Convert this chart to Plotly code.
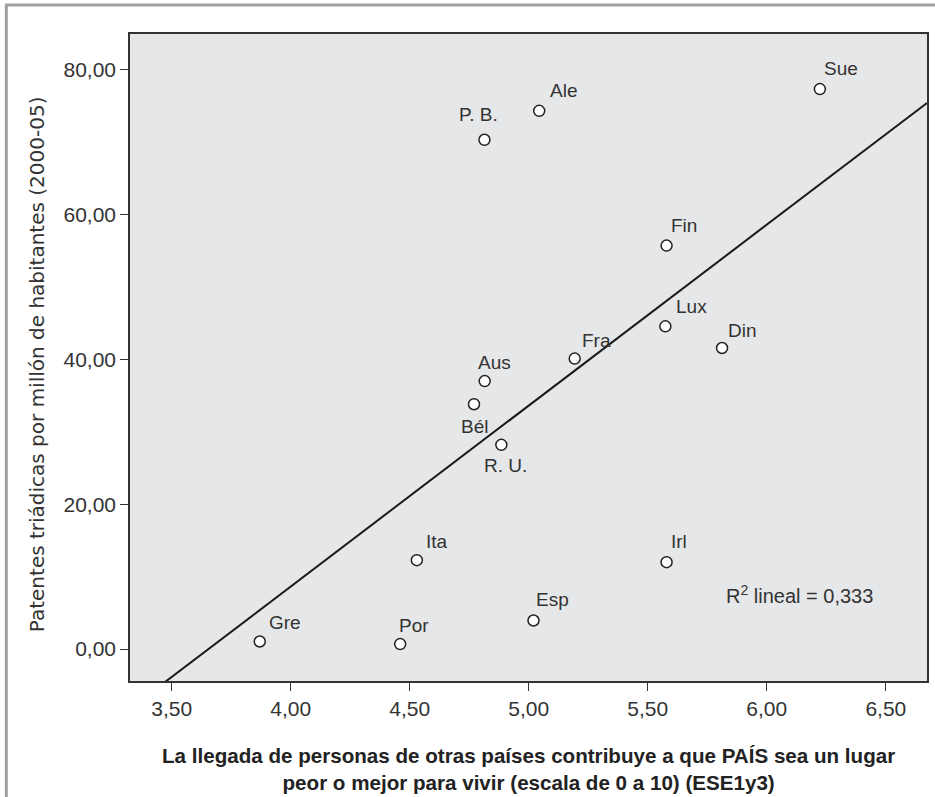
import plotly.graph_objects as go

countries = ["Gre", "Por", "Esp", "Ita", "Bél", "R. U.", "Aus", "Fra", "Fin", "Lux",
             "Din", "Irl", "P. B.", "Ale", "Sue"]
llegada = [3.87, 4.46, 5.02, 4.53, 4.77, 4.885, 4.815, 5.193, 5.579, 5.574,
           5.812, 5.579, 4.814, 5.044, 6.223]
patentes = [1.05, 0.69, 3.95, 12.28, 33.8, 28.2, 37.0, 40.1, 55.7, 44.55,
            41.56, 12.0, 70.3, 74.3, 77.3]
x_ticks = [3.5, 4.0, 4.5, 5.0, 5.5, 6.0, 6.5]
y_ticks = [0, 20, 40, 60, 80]

# linear fit line as drawn in the chart
fit_slope = 24.97
fit_intercept = -91.24
r2_text = "R<sup>2</sup> lineal = 0,333"

x_title = ("<b>La llegada de personas de otras países contribuye a que PAÍS sea un lugar"
           "<br>peor o mejor para vivir (escala de 0 a 10) (ESE1y3)</b>")
y_title = "Patentes triádicas por millón de habitantes (2000-05)"

# label offsets in pixels (dx, dy; screen-down positive) relative to each point
label_offsets = {
    "Gre": (25, -19), "Por": (14, -19), "Esp": (19, -21), "Ita": (20, -19),
    "Bél": (1, 22), "R. U.": (4, 21), "Aus": (10, -19), "Fra": (22, -18),
    "Fin": (17, -20), "Lux": (26, -20), "Din": (20, -18), "Irl": (12, -21),
    "P. B.": (-6, -25), "Ale": (24, -20), "Sue": (21, -21),
}

x_range = [3.325, 6.673]
y_range = [-4.4, 84.9]

line_x = list(x_range)
line_y = [fit_slope * v + fit_intercept for v in line_x]

sans = "Liberation Sans, Arial, Helvetica, sans-serif"
wide = "DejaVu Sans, Verdana, sans-serif"
txt = "#333333"

fig = go.Figure()
fig.add_trace(go.Scatter(
    x=line_x, y=line_y, mode="lines",
    line=dict(color="#1a1a1a", width=2), hoverinfo="skip", showlegend=False,
))
fig.add_trace(go.Scatter(
    x=llegada, y=patentes, mode="markers",
    marker=dict(size=11, color="white", line=dict(color="#222222", width=1.5)),
    showlegend=False, cliponaxis=False,
))

annotations = []
for c, xv, yv in zip(countries, llegada, patentes):
    dx, dy = label_offsets[c]
    annotations.append(dict(
        x=xv, y=yv, text=c, showarrow=False, xshift=dx, yshift=-dy,
        font=dict(size=19, color=txt, family=sans),
    ))
annotations.append(dict(
    x=6.139, y=7.6, text=r2_text, showarrow=False,
    font=dict(size=20, color=txt, family=sans),
))
annotations.append(dict(
    xref="paper", yref="paper", x=0.4994, y=-0.136, text=x_title,
    showarrow=False, xanchor="center", yanchor="middle", align="center",
    font=dict(size=20.6, color="#222222", family=sans),
))
annotations.append(dict(
    xref="paper", yref="paper", x=-0.1164, y=0.49, text=y_title, textangle=-90,
    showarrow=False, xanchor="center", yanchor="middle",
    font=dict(size=20, color="#333333", family=wide),
))

frame_color = "#a0a0a0"
shapes = [
    dict(type="line", xref="paper", yref="paper", x0=-0.1552, x1=-0.1552, y0=-0.2, y1=1.0448,
         line=dict(color=frame_color, width=3)),
    dict(type="line", xref="paper", yref="paper", x0=-0.1567, x1=1.02, y0=1.0448, y1=1.0448,
         line=dict(color=frame_color, width=3)),
]

axis_common = dict(
    showgrid=False, zeroline=False, showline=True, mirror=True,
    linecolor="#333333", linewidth=1.5,
    ticks="outside", ticklen=8, tickwidth=1.2, tickcolor="#333333",
    tickformat=".2f", tickfont=dict(size=21, color=txt, family=sans),
)

fig.update_layout(
    width=935, height=797,
    margin=dict(l=130, r=6, t=34, b=116),
    paper_bgcolor="white", plot_bgcolor="#e6e7e9",
    separators=",.",
    font=dict(family=sans, size=16, color=txt),
    annotations=annotations, shapes=shapes,
    xaxis=dict(range=x_range, tickvals=x_ticks, **axis_common),
    yaxis=dict(range=y_range, tickvals=y_ticks, **axis_common),
)

fig.write_html("out.html", config={"displayModeBar": False},
               post_script="document.body.style.margin='0';")
